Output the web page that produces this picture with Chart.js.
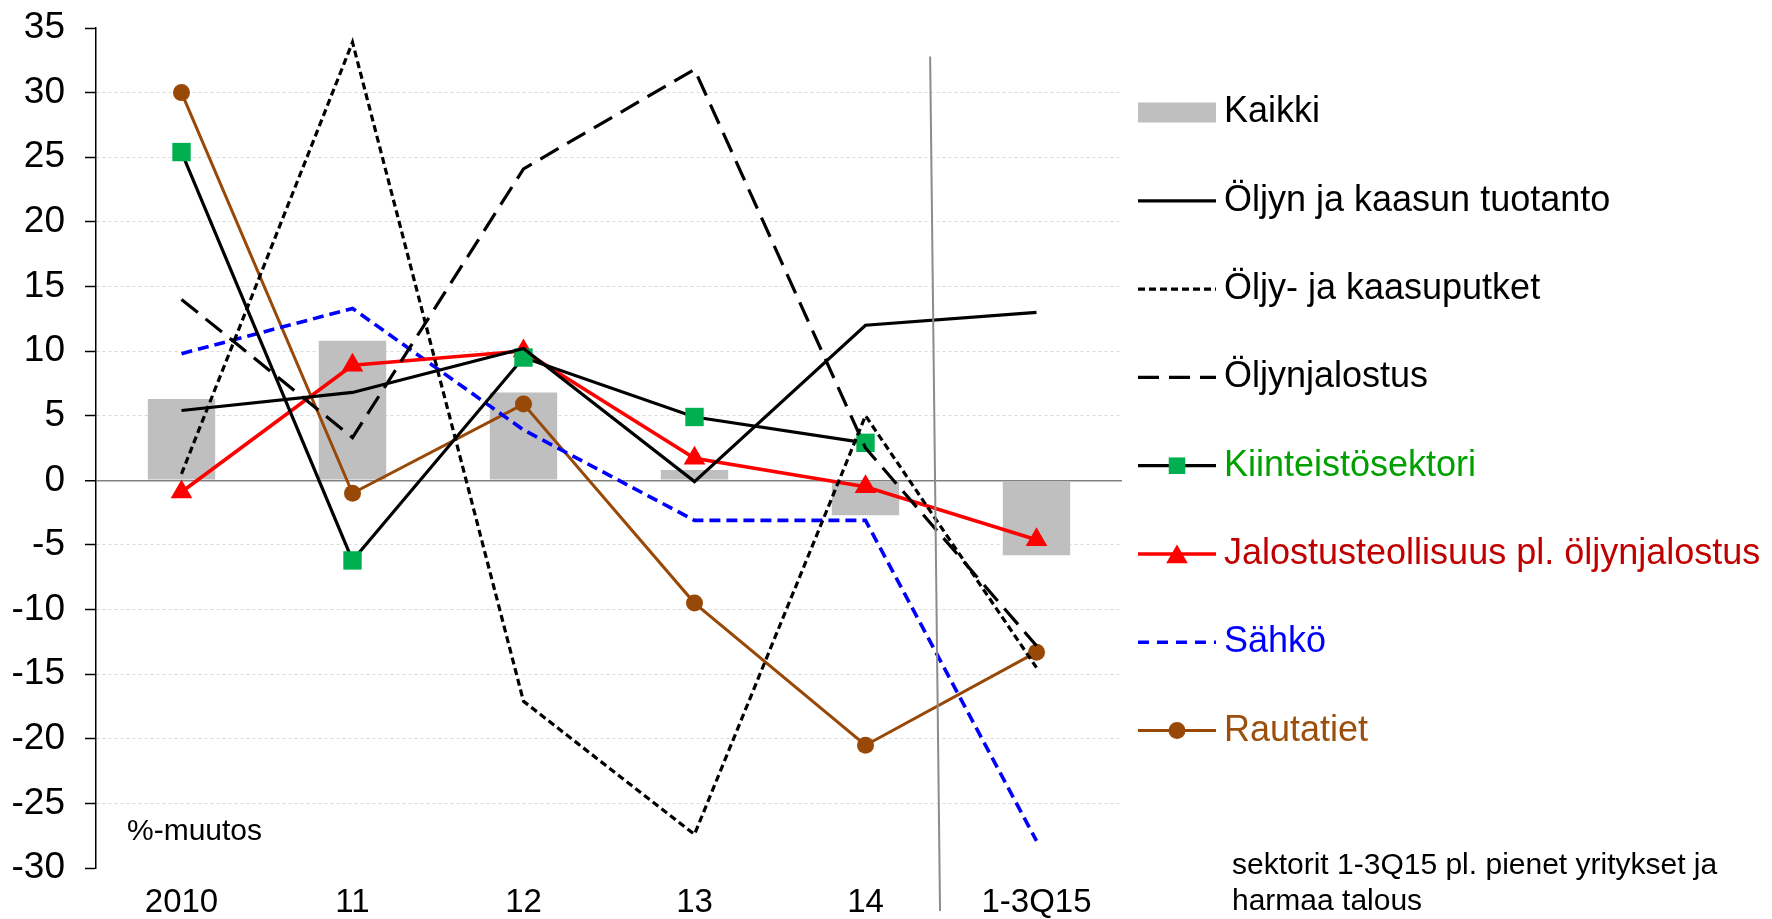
<!DOCTYPE html>
<html>
<head>
<meta charset="utf-8">
<title>Sektorien muutos</title>
<script src="https://cdn.jsdelivr.net/npm/chart.js@4.4.1/dist/chart.umd.min.js"></script>
<style>
  html, body { margin: 0; padding: 0; background: #fff; }
  #wrap { width: 1772px; height: 919px; position: relative; }
</style>
</head>
<body>
<div id="wrap"><canvas id="c"></canvas></div>
<script>
// ---- data ----
const categories = ['2010', '11', '12', '13', '14', '1-3Q15'];
const kaikki = [6.3, 10.8, 6.8, 0.8, -2.7, -5.8];
const oljynKaasunTuotanto = [5.4, 6.8, 10.2, -0.1, 12.0, 13.0];
const oljyKaasuputket = [0.5, 33.9, -17.1, -27.4, 5.0, -14.5];
const oljynjalostus = [14.0, 3.3, 24.1, 31.8, 2.5, -12.8];
const kiinteistosektori = [25.4, -6.2, 9.5, 4.9, 2.9, null];
const jalostusteollisuus = [-0.9, 8.9, 10.0, 1.7, -0.5, -4.6];
const sahko = [9.8, 13.3, 3.9, -3.1, -3.1, -27.9];
const rautatiet = [30.0, -1.0, 5.9, -9.5, -20.5, -13.3];
const yTickValues = { min: -30, max: 35, step: 5 };
const unitLabel = '%-muutos';
const noteLines = ['sektorit 1-3Q15 pl. pienet yritykset ja', 'harmaa talous'];

const FONT = '"Liberation Sans", Arial, Helvetica, sans-serif';

// draws a marker with the same geometry Chart.js uses for its point styles
function drawMarker(ctx, style, x, y, r, color) {
  ctx.save();
  ctx.fillStyle = color;
  ctx.beginPath();
  if (style === 'rect') {
    const s = Math.SQRT1_2 * r;
    ctx.rect(x - s, y - s, 2 * s, 2 * s);
  } else if (style === 'triangle') {
    ctx.moveTo(x, y - r);
    ctx.lineTo(x + Math.sin(2 * Math.PI / 3) * r, y + r / 2);
    ctx.lineTo(x - Math.sin(2 * Math.PI / 3) * r, y + r / 2);
    ctx.closePath();
  } else {
    ctx.arc(x, y, r, 0, Math.PI * 2);
  }
  ctx.fill();
  ctx.restore();
}

// legend on the right, one row per dataset
const sideLegend = {
  id: 'sideLegend',
  afterDraw(chart, args, opts) {
    const ctx = chart.ctx;
    ctx.save();
    ctx.font = opts.fontSize + 'px ' + FONT;
    ctx.textBaseline = 'middle';
    ctx.textAlign = 'left';
    chart.data.datasets.forEach((ds, i) => {
      const y = opts.top + i * opts.rowHeight;
      const x0 = opts.left;
      const x1 = opts.left + opts.symbolWidth;
      if (ds.type === 'bar') {
        ctx.fillStyle = ds.backgroundColor;
        ctx.fillRect(x0, y - opts.boxHeight / 2, opts.symbolWidth, opts.boxHeight);
      } else {
        ctx.save();
        ctx.strokeStyle = ds.borderColor;
        ctx.lineWidth = ds.borderWidth;
        ctx.setLineDash(ds.legendDash || ds.borderDash || []);
        ctx.beginPath();
        ctx.moveTo(x0, y);
        ctx.lineTo(x1, y);
        ctx.stroke();
        ctx.restore();
        if (ds.pointRadius > 0) {
          const r = ds.pointStyle === 'rect' ? ds.pointRadius * 0.9 : ds.pointRadius;
          drawMarker(ctx, ds.pointStyle, (x0 + x1) / 2, y + (ds.pointStyle === 'triangle' ? 3 : 0),
                     r, ds.pointBackgroundColor);
        }
      }
      ctx.fillStyle = ds.labelColor || '#000';
      ctx.fillText(ds.label, opts.textLeft, y);
    });
    ctx.restore();
  }
};

// vertical separator before the last period, and free texts
const annotations = {
  id: 'annotations',
  afterDatasetsDraw(chart, args, opts) {
    const { ctx, scales: { x, y }, chartArea } = chart;
    ctx.save();
    ctx.strokeStyle = opts.separatorColor;
    ctx.lineWidth = opts.separatorWidth;
    ctx.beginPath();
    ctx.moveTo(x.getPixelForValue(opts.separatorTopIndex), y.getPixelForValue(opts.separatorTopValue));
    ctx.lineTo(x.getPixelForValue(opts.separatorBottomIndex), chartArea.bottom + opts.separatorBelow);
    ctx.stroke();

    ctx.fillStyle = '#000';
    ctx.textAlign = 'left';
    ctx.textBaseline = 'alphabetic';
    ctx.font = opts.unitFontSize + 'px ' + FONT;
    ctx.fillText(unitLabel, chartArea.left + opts.unitDx, chartArea.bottom - opts.unitDy);

    ctx.font = opts.noteFontSize + 'px ' + FONT;
    noteLines.forEach((t, i) => {
      ctx.fillText(t, opts.noteLeft, opts.noteTop + i * opts.noteLineHeight);
    });
    ctx.restore();
  }
};

const lineBase = { type: 'line', fill: false, tension: 0, pointRadius: 0, pointHoverRadius: 0,
                   pointBorderWidth: 0, spanGaps: false, order: 0 };

new Chart(document.getElementById('c'), {
  type: 'bar',
  data: {
    labels: categories,
    datasets: [
      { type: 'bar', label: 'Kaikki', data: kaikki, backgroundColor: '#bfbfbf', borderWidth: 0,
        barPercentage: 0.394, categoryPercentage: 1.0, order: 10 },
      Object.assign({}, lineBase, { label: 'Öljyn ja kaasun tuotanto', data: oljynKaasunTuotanto,
        borderColor: '#000000', borderWidth: 3.2 }),
      Object.assign({}, lineBase, { label: 'Öljy- ja kaasuputket', data: oljyKaasuputket,
        borderColor: '#000000', borderWidth: 3.2, borderDash: [7, 4] }),
      Object.assign({}, lineBase, { label: 'Öljynjalostus', data: oljynjalostus,
        borderColor: '#000000', borderWidth: 3.2, borderDash: [21, 10] }),
      Object.assign({}, lineBase, { label: 'Kiinteistösektori', data: kiinteistosektori,
        borderColor: '#000000', borderWidth: 3.2, pointStyle: 'rect', pointRadius: 13,
        pointBackgroundColor: '#00b050', labelColor: '#00a000' }),
      Object.assign({}, lineBase, { label: 'Jalostusteollisuus pl. öljynjalostus', data: jalostusteollisuus,
        borderColor: '#ff0000', borderWidth: 3.6, pointStyle: 'triangle', pointRadius: 12.5,
        pointBackgroundColor: '#ff0000', labelColor: '#c00000' }),
      Object.assign({}, lineBase, { label: 'Sähkö', data: sahko,
        borderColor: '#0000ff', borderWidth: 3.6, borderDash: [11, 6], legendDash: [11, 8],
        labelColor: '#0000ff' }),
      Object.assign({}, lineBase, { label: 'Rautatiet', data: rautatiet,
        borderColor: '#984807', borderWidth: 3, pointStyle: 'circle', pointRadius: 8.5,
        pointBackgroundColor: '#984807', labelColor: '#9c4f0d' })
    ]
  },
  options: {
    responsive: true,
    maintainAspectRatio: false,
    devicePixelRatio: 1,
    animation: false,
    events: [],
    layout: { padding: { left: 0, top: 28, right: 650, bottom: 0 } },
    plugins: {
      legend: { display: false },
      tooltip: { enabled: false },
      sideLegend: { left: 1138, textLeft: 1224, symbolWidth: 78, boxHeight: 20,
                    top: 112.5, rowHeight: 88.3, fontSize: 36 },
      annotations: { separatorColor: '#8c8c8c', separatorWidth: 2,
                     separatorTopIndex: 4.378, separatorTopValue: 32.8,
                     separatorBottomIndex: 4.436, separatorBelow: 43,
                     unitFontSize: 30, unitDx: 31, unitDy: 28,
                     noteFontSize: 30, noteLeft: 1232, noteTop: 874, noteLineHeight: 36 }
    },
    scales: {
      x: {
        offset: true,
        afterFit: s => { s.height = 51; s.paddingLeft = 0; s.paddingRight = 0; },
        grid: { display: false, drawTicks: false },
        border: { display: false },
        ticks: { color: '#000', padding: 15, font: { family: FONT, size: 33 }, maxRotation: 0 }
      },
      y: {
        min: yTickValues.min,
        max: yTickValues.max,
        afterFit: s => { s.width = 96; s.paddingTop = 0; s.paddingBottom = 0; },
        ticks: { stepSize: yTickValues.step, color: '#000', padding: 20,
                 font: { family: FONT, size: 37 }, callback: v => String(v) },
        grid: {
          drawTicks: true,
          tickLength: 11,
          tickColor: '#000',
          tickWidth: 1.5,
          color: c => {
            const v = c.tick ? c.tick.value : null;
            if (v === 0) return '#808080';
            if (v === yTickValues.min || v === yTickValues.max) return 'rgba(0,0,0,0)';
            return '#dadada';
          },
          lineWidth: c => (c.tick && c.tick.value === 0) ? 1.5 : 1
        },
        border: { display: true, color: '#000', width: 1.5,
                  dash: c => (c.tick && c.tick.value !== 0) ? [3, 3] : [] }
      }
    }
  },
  plugins: [sideLegend, annotations]
});
</script>
</body>
</html>
